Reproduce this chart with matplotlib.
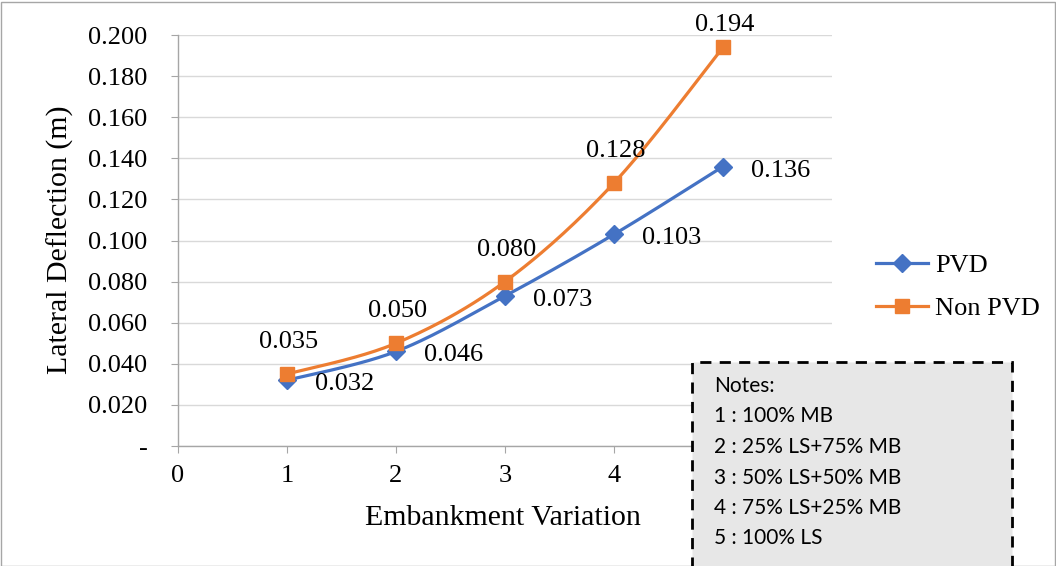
import numpy as np
import matplotlib
matplotlib.use("Agg")
import matplotlib.pyplot as plt
from matplotlib.patches import Rectangle
from matplotlib.ticker import FixedLocator, FuncFormatter

# Embankment variation index and lateral deflection (m)
variation = [1, 2, 3, 4, 5]
pvd = [0.032, 0.046, 0.073, 0.103, 0.136]
non_pvd = [0.035, 0.050, 0.080, 0.128, 0.194]
y_ticks = [0.0, 0.02, 0.04, 0.06, 0.08, 0.10, 0.12, 0.14, 0.16, 0.18, 0.20]
x_ticks = [0, 1, 2, 3, 4]
notes = ["Notes:", "1 : 100% MB", "2 : 25% LS+75% MB", "3 : 50% LS+50% MB",
         "4 : 75% LS+25% MB", "5 : 100% LS"]

BLUE = "#4472C4"
ORANGE = "#ED7D31"
SERIF = "Liberation Serif"
FS = 19


def smooth(xs, ys, n=40):
    """Catmull-Rom style smoothing (Bezier with 1/6 tangents)."""
    xs = np.asarray(xs, float)
    ys = np.asarray(ys, float)
    px = np.concatenate([[xs[0]], xs, [xs[-1]]])
    py = np.concatenate([[ys[0]], ys, [ys[-1]]])
    out_x, out_y = [], []
    t = np.linspace(0, 1, n)
    for i in range(1, len(px) - 2):
        p0 = np.array([px[i], py[i]])
        p3 = np.array([px[i + 1], py[i + 1]])
        p1 = p0 + (np.array([px[i + 1], py[i + 1]]) - np.array([px[i - 1], py[i - 1]])) / 6
        p2 = p3 - (np.array([px[i + 2], py[i + 2]]) - np.array([px[i], py[i]])) / 6
        b = ((1 - t) ** 3)[:, None] * p0 + (3 * (1 - t) ** 2 * t)[:, None] * p1 \
            + (3 * (1 - t) * t ** 2)[:, None] * p2 + (t ** 3)[:, None] * p3
        out_x.extend(b[:, 0])
        out_y.extend(b[:, 1])
    return np.array(out_x), np.array(out_y)


W, H = 1056, 566
fig = plt.figure(figsize=(W / 100, H / 100), dpi=100)
ax = fig.add_axes([178 / W, 1 - 446 / H, (832 - 178) / W, (446 - 35) / H])

ax.set_xlim(0, 6)
ax.set_ylim(0, 0.2)
ax.yaxis.set_major_locator(FixedLocator(y_ticks))
ax.xaxis.set_major_locator(FixedLocator(x_ticks))
ax.yaxis.set_major_formatter(FuncFormatter(lambda v, p: "-" if abs(v) < 1e-9 else f"{v:.3f}"))
ax.grid(axis="y", color="#d9d9d9", linewidth=1.0)
ax.set_axisbelow(True)
for s in ["top", "right"]:
    ax.spines[s].set_visible(False)
for s in ["left", "bottom"]:
    ax.spines[s].set_color("#a6a6a6")
    ax.spines[s].set_linewidth(1.0)
ax.tick_params(axis="y", length=5, color="#a6a6a6", pad=17, labelsize=FS)
ax.tick_params(axis="x", length=5, color="#a6a6a6", pad=9, labelsize=FS)
for lab in ax.get_xticklabels() + ax.get_yticklabels():
    lab.set_fontfamily(SERIF)

sx, sy = smooth(variation, pvd)
ax.plot(sx, sy, color=BLUE, linewidth=2.3, solid_capstyle="round", zorder=3)
ax.plot(variation, pvd, linestyle="none", marker="D", markersize=9,
        color=BLUE, zorder=4)
sx, sy = smooth(variation, non_pvd)
ax.plot(sx, sy, color=ORANGE, linewidth=2.3, solid_capstyle="round", zorder=3)
ax.plot(variation, non_pvd, linestyle="none", marker="s", markersize=10,
        color=ORANGE, zorder=4)

# Value labels: PVD to the right, Non PVD above (kept inside the chart area)
for x, v in zip(variation, pvd):
    ax.annotate(f"{v:.3f}", (x, v), xytext=(28, -4), textcoords="offset pixels",
                ha="left", va="center", fontsize=FS, fontfamily=SERIF,
                annotation_clip=False)
fig.canvas.draw()
top_px = fig.bbox.height - 25
for x, v in zip(variation, non_pvd):
    py = ax.transData.transform((x, v))[1]
    dy = min(32, top_px - py)
    ax.annotate(f"{v:.3f}", (x, v), xytext=(2, dy), textcoords="offset pixels",
                ha="center", va="center", fontsize=FS, fontfamily=SERIF,
                annotation_clip=False)

ax.set_xlabel("Embankment Variation", fontsize=21.5, fontfamily=SERIF)
ax.set_ylabel("Lateral Deflection (m)", fontsize=21.5, fontfamily=SERIF)
ax.xaxis.set_label_coords((503 - 178) / (832 - 178), -(518 - 446) / (446 - 35))
ax.xaxis.label.set_va("center")
ax.yaxis.set_label_coords(-(178 - 60) / (832 - 178), (446 - 240) / (446 - 35))
ax.yaxis.label.set_va("center")

# Legend
h1, = ax.plot([], [], color=BLUE, linewidth=2.3, marker="D", markersize=9)
h2, = ax.plot([], [], color=ORANGE, linewidth=2.3, marker="s", markersize=10)
fig.legend([h1, h2], ["PVD", "Non PVD"], loc="center left",
           bbox_to_anchor=(876 / W, 1 - 287 / H), frameon=False,
           prop={"family": SERIF, "size": FS}, handlelength=1.97,
           handletextpad=0.27, labelspacing=0.72, borderpad=0, borderaxespad=0)

# Notes box
box = Rectangle((692 / W, -0.02), (1012 - 692) / W, (1 - 362 / H) + 0.02,
                transform=fig.transFigure, facecolor="#e7e7e7", edgecolor="black",
                linewidth=2.0, linestyle=(0, (4, 3)), zorder=5)
fig.patches.append(box)
for i, line in enumerate(notes):
    fig.text(714 / W, 1 - (386 + i * 30.5) / H, line, fontsize=15,
             fontfamily="Lato", va="center", ha="left", zorder=6)

# Outer border
fig.patches.append(Rectangle((0.5 / W, 0.5 / H), (W - 2) / W, (H - 2) / H,
                             transform=fig.transFigure, fill=False,
                             edgecolor="#a6a6a6", linewidth=1.0, zorder=1))

fig.savefig("out.png", dpi=100)
